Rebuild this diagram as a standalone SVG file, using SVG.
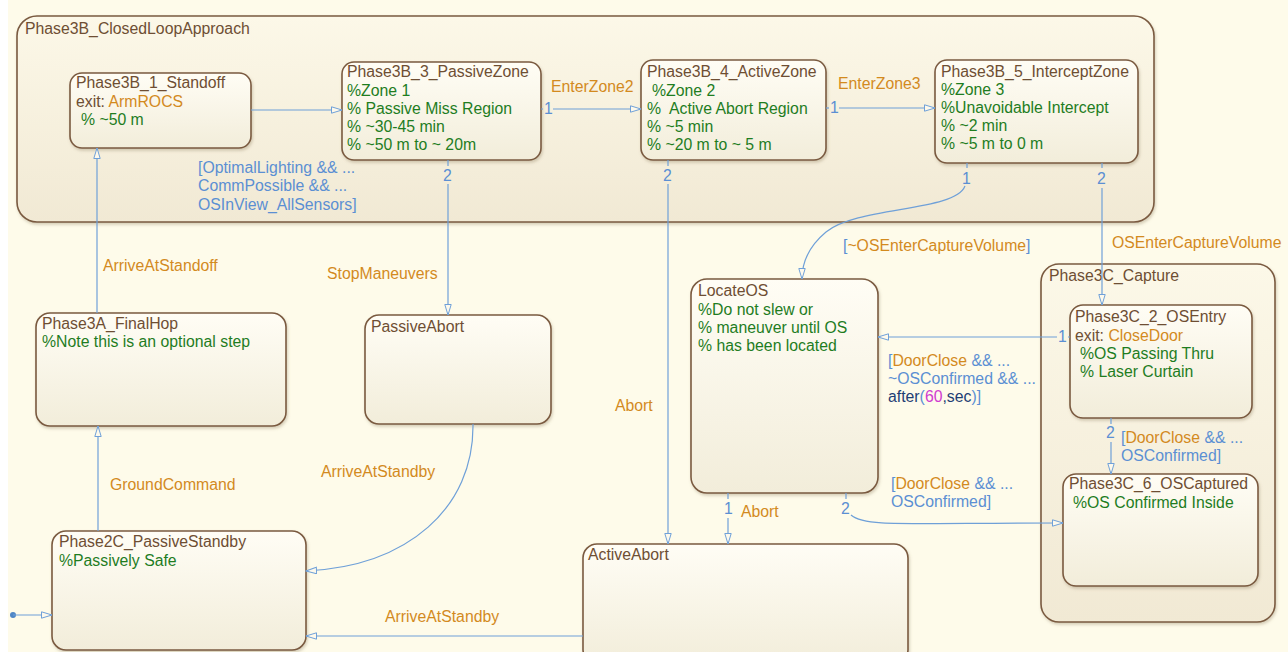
<svg xmlns="http://www.w3.org/2000/svg" width="1288" height="652" viewBox="0 0 1288 652">
<defs>
<linearGradient id="gs" x1="0" y1="0" x2="0" y2="1">
<stop offset="0" stop-color="#fffdf5"/>
<stop offset="1" stop-color="#f2edda"/>
</linearGradient>
<linearGradient id="gb" x1="0" y1="0" x2="0" y2="1">
<stop offset="0" stop-color="#fcf8e8"/>
<stop offset="1" stop-color="#f1e9d4"/>
</linearGradient>
<filter id="sh" x="-5%" y="-5%" width="110%" height="115%">
<feDropShadow dx="1" dy="2" stdDeviation="1.5" flood-color="#8a7a5a" flood-opacity="0.35"/>
</filter>
<marker id="ar" viewBox="0 0 12 8" refX="11" refY="4" markerWidth="12" markerHeight="8" markerUnits="userSpaceOnUse" orient="auto">
<path d="M0.5,0.8 L11,4 L0.5,7.2 z" fill="#fdf9ec" stroke="#6fa0d8" stroke-width="1"/>
</marker>
</defs>
<style>
text{font-family:"Liberation Sans",Arial,sans-serif;font-size:15.8px}
.st{fill:url(#gs);stroke:#7a5a40;stroke-width:1.6;filter:url(#sh)}
.big{fill:url(#gb);stroke:#7a5a40;stroke-width:1.6;filter:url(#sh)}
.t{fill:#6e4e33}
.c{fill:#1f7d1f}
.o{fill:#d38a1e}
.b{fill:#5b8fd3}
.n{fill:#1e3e74}
.m{fill:#d03cd0}
.ln{fill:none;stroke:#6fa0d8;stroke-width:1.2}
.ma{marker-end:url(#ar)}
</style>
<rect x="0" y="0" width="1288" height="652" fill="#ffffff"/>
<rect x="8" y="0" width="1280" height="652" fill="#fefbea"/>

<g id="Phase3B_ClosedLoopApproach">
<rect class="big" x="17" y="16" width="1137" height="206" rx="20"/>
<text class="t" x="25" y="34">Phase3B_ClosedLoopApproach</text>
</g>

<g id="Phase3B_1_Standoff">
<rect class="st" x="70" y="73" width="181" height="75" rx="12"/>
<text class="t" x="76" y="88">Phase3B_1_Standoff</text>
<text x="76" y="107"><tspan class="t">exit: </tspan><tspan class="o">ArmROCS</tspan></text>
<text class="c" x="81" y="125">% ~50 m</text>
</g>

<g id="Phase3B_3_PassiveZone">
<rect class="st" x="342" y="62" width="199" height="98" rx="12"/>
<text class="t" x="347" y="77">Phase3B_3_PassiveZone</text>
<text class="c" x="347" y="96">%Zone 1</text>
<text class="c" x="347" y="114">% Passive Miss Region</text>
<text class="c" x="347" y="132">% ~30-45 min</text>
<text class="c" x="347" y="150">% ~50 m to ~ 20m</text>
</g>

<g id="Phase3B_4_ActiveZone">
<rect class="st" x="641" y="60" width="185" height="100" rx="12"/>
<text class="t" x="647" y="77">Phase3B_4_ActiveZone</text>
<text class="c" x="652" y="96">%Zone 2</text>
<text class="c" x="647" y="114" xml:space="preserve">%  Active Abort Region</text>
<text class="c" x="647" y="132">% ~5 min</text>
<text class="c" x="647" y="150">% ~20 m to ~ 5 m</text>
</g>

<g id="Phase3B_5_InterceptZone">
<rect class="st" x="935" y="60" width="203" height="103" rx="12"/>
<text class="t" x="941" y="77">Phase3B_5_InterceptZone</text>
<text class="c" x="941" y="95">%Zone 3</text>
<text class="c" x="941" y="113">%Unavoidable Intercept</text>
<text class="c" x="941" y="131">% ~2 min</text>
<text class="c" x="941" y="149">% ~5 m to 0 m</text>
</g>

<g id="Phase3A_FinalHop">
<rect class="st" x="36" y="313" width="250" height="113" rx="14"/>
<text class="t" x="42" y="329">Phase3A_FinalHop</text>
<text class="c" x="42" y="347">%Note this is an optional step</text>
</g>

<g id="PassiveAbort">
<rect class="st" x="365" y="315" width="186" height="109" rx="14"/>
<text class="t" x="371" y="332">PassiveAbort</text>
</g>

<g id="LocateOS">
<rect class="st" x="691" y="279" width="187" height="214" rx="16"/>
<text class="t" x="698" y="296">LocateOS</text>
<text class="c" x="698" y="315">%Do not slew or</text>
<text class="c" x="698" y="333">% maneuver until OS</text>
<text class="c" x="698" y="351">% has been located</text>
</g>

<g id="Phase3C_Capture">
<rect class="big" x="1041" y="264" width="234" height="358" rx="18"/>
<text class="t" x="1049" y="281">Phase3C_Capture</text>
</g>

<g id="Phase3C_2_OSEntry">
<rect class="st" x="1070" y="305" width="182" height="113" rx="13"/>
<text class="t" x="1075" y="322">Phase3C_2_OSEntry</text>
<text x="1075" y="341"><tspan class="t">exit: </tspan><tspan class="o">CloseDoor</tspan></text>
<text class="c" x="1080" y="359">%OS Passing Thru</text>
<text class="c" x="1080" y="377">% Laser Curtain</text>
</g>

<g id="Phase3C_6_OSCaptured">
<rect class="st" x="1063" y="474" width="195" height="112" rx="13"/>
<text class="t" x="1069" y="489">Phase3C_6_OSCaptured</text>
<text class="c" x="1073" y="508">%OS Confirmed Inside</text>
</g>

<g id="Phase2C_PassiveStandby">
<rect class="st" x="52" y="531" width="254" height="119" rx="14"/>
<text class="t" x="59" y="547">Phase2C_PassiveStandby</text>
<text class="c" x="59" y="566">%Passively Safe</text>
</g>

<g id="ActiveAbort">
<rect class="st" x="583" y="544" width="325" height="120" rx="14"/>
<text class="t" x="588" y="560">ActiveAbort</text>
</g>

<g id="connectors">
<path class="ln ma" d="M251,110 L342,110"/>
<path class="ln" d="M541,109 L543,109"/>
<path class="ln ma" d="M553,109 L641,109"/>
<text class="b" x="544" y="114">1</text>
<text class="o" x="551" y="92">EnterZone2</text>

<path class="ln" d="M826,108 L829,108"/>
<path class="ln ma" d="M839,108 L935,108"/>
<text class="b" x="830" y="113">1</text>
<text class="o" x="838" y="89">EnterZone3</text>

<text x="198" y="173" class="b">[OptimalLighting &amp;&amp; ...</text>
<text x="198" y="191" class="b">CommPossible &amp;&amp; ...</text>
<text x="198" y="210" class="b">OSInView_AllSensors]</text>

<path class="ln" d="M448,160 L448,166"/>
<text class="b" x="443" y="181">2</text>
<path class="ln ma" d="M448,184 L448,315"/>
<text class="o" x="327" y="279">StopManeuvers</text>

<path class="ln" d="M668,160 L668,166"/>
<text class="b" x="663" y="181">2</text>
<path class="ln ma" d="M668,184 L668,544"/>
<text class="o" x="615" y="411">Abort</text>

<path class="ln" d="M967,163 L967,168"/>
<text class="b" x="962" y="184">1</text>
<path class="ln ma" d="M965,186 C955,212 858,206 826,232 C808,247 802,262 802,279"/>
<text x="843" y="251"><tspan class="b">[</tspan><tspan class="o">~OSEnterCaptureVolume</tspan><tspan class="b">]</tspan></text>

<path class="ln" d="M1102,163 L1102,168"/>
<text class="b" x="1097" y="184">2</text>
<path class="ln ma" d="M1102,188 L1102,305"/>
<text class="o" x="1112" y="248">OSEnterCaptureVolume</text>

<path class="ln" d="M1070,337 L1068,337"/>
<text class="b" x="1058" y="342">1</text>
<path class="ln ma" d="M1057,337 L878,337"/>
<text x="888" y="366"><tspan class="b">[</tspan><tspan class="o">DoorClose</tspan><tspan class="b"> &amp;&amp; ...</tspan></text>
<text x="888" y="384" class="b">~OSConfirmed &amp;&amp; ...</text>
<text x="888" y="402"><tspan class="n">after</tspan><tspan class="b">(</tspan><tspan class="m">60</tspan><tspan class="n">,sec</tspan><tspan class="b">)]</tspan></text>

<path class="ln" d="M1111,418 L1111,424"/>
<text class="b" x="1106" y="438">2</text>
<path class="ln ma" d="M1111,442 L1111,474"/>
<text x="1121" y="443"><tspan class="b">[</tspan><tspan class="o">DoorClose</tspan><tspan class="b"> &amp;&amp; ...</tspan></text>
<text x="1121" y="461" class="b">OSConfirmed]</text>

<path class="ln" d="M728,493 L728,499"/>
<text class="b" x="724" y="514">1</text>
<path class="ln ma" d="M728,518 L728,544"/>
<text class="o" x="741" y="517">Abort</text>

<path class="ln" d="M846,493 L846,499"/>
<text class="b" x="841" y="514">2</text>
<path class="ln ma" d="M851,515 C864,527 900,523 1063,523"/>
<text x="891" y="489"><tspan class="b">[</tspan><tspan class="o">DoorClose</tspan><tspan class="b"> &amp;&amp; ...</tspan></text>
<text x="891" y="507" class="b">OSConfirmed]</text>

<path class="ln ma" d="M97,313 L97,148"/>
<text class="o" x="103" y="271">ArriveAtStandoff</text>

<path class="ln ma" d="M98,531 L98,426"/>
<text class="o" x="110" y="490">GroundCommand</text>

<path class="ln ma" d="M473,424 C474,508 408,566 306,571"/>
<text class="o" x="321" y="477">ArriveAtStandby</text>

<path class="ln ma" d="M583,636 L306,636"/>
<text class="o" x="385" y="622">ArriveAtStandby</text>

<circle cx="13" cy="615" r="3" fill="#4f86c6"/>
<path class="ln ma" d="M13,615 L52,615"/>
</g>
</svg>
